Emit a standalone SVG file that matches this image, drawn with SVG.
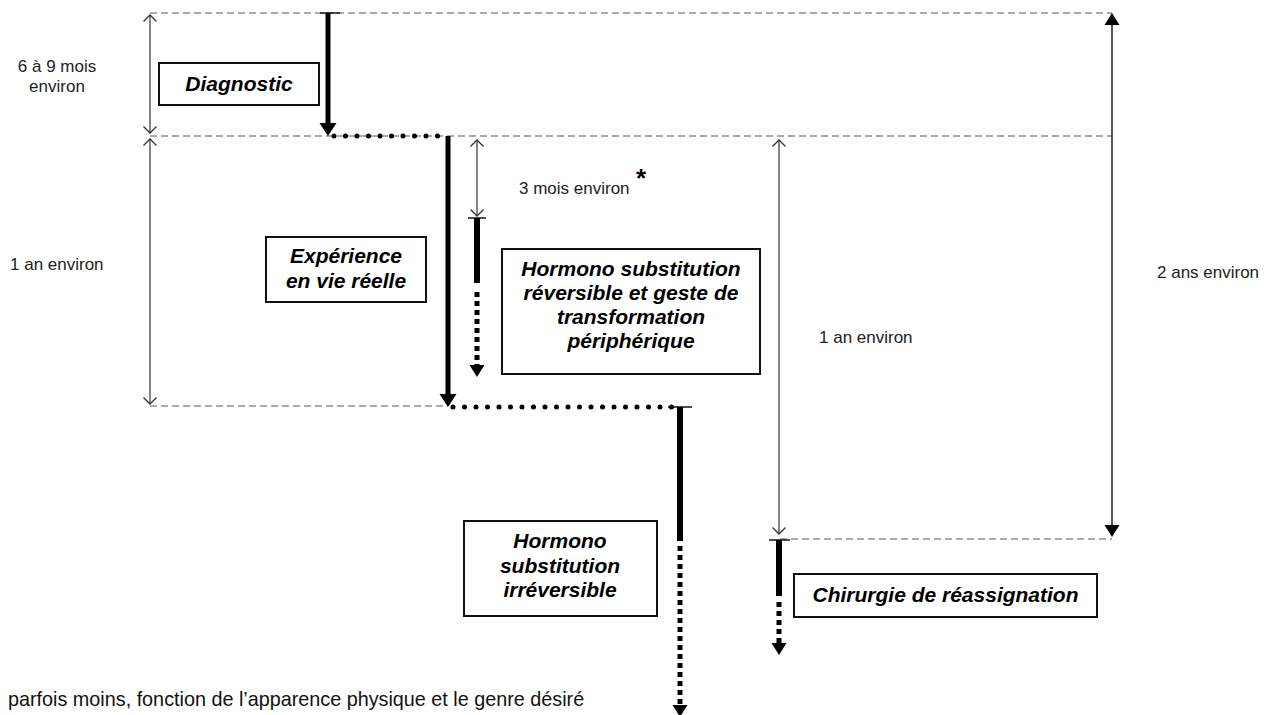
<svg xmlns="http://www.w3.org/2000/svg" width="1272" height="715" viewBox="0 0 1272 715">
<style>
.bg{fill:#fff}
.box{fill:#fff;stroke:#111;stroke-width:2}
.bt{font-family:"Liberation Sans",Arial,sans-serif;font-size:21px;font-weight:bold;font-style:italic;fill:#000;text-anchor:middle}
.lbl{font-family:"Liberation Sans",Arial,sans-serif;font-size:17px;fill:#222}
.star{font-family:"Liberation Sans",Arial,sans-serif;font-size:26px;font-weight:bold;fill:#000}
.note{font-family:"Liberation Sans",Arial,sans-serif;font-size:19.8px;fill:#111}
.dash{stroke:#555;stroke-width:1;stroke-dasharray:7 4;fill:none}
.dim{stroke:#333;stroke-width:1.2;fill:none;marker-start:url(#open);marker-end:url(#open)}
.dim2{stroke:#222;stroke-width:1.5;fill:none;marker-start:url(#filled);marker-end:url(#filled)}
.tick{stroke:#111;stroke-width:1.5}
.thick5{stroke:#000;stroke-width:5;fill:none}
.thick6{stroke:#000;stroke-width:6;fill:none}
.dots{stroke:#000;stroke-width:5;stroke-dasharray:0 11.5;stroke-linecap:round;fill:none}
.sq{stroke:#000;stroke-width:5;stroke-dasharray:5 4;fill:none}
</style>
<defs>
<marker id="open" markerUnits="userSpaceOnUse" viewBox="-10 -10 20 20" refX="0" refY="0" markerWidth="20" markerHeight="20" orient="auto-start-reverse">
<path d="M-6.5,-6.5 L0,0 L-6.5,6.5" fill="none" stroke="#333" stroke-width="1.3"/>
</marker>
<marker id="filled" markerUnits="userSpaceOnUse" viewBox="0 -8 14 16" refX="0" refY="0" markerWidth="14" markerHeight="16" orient="auto-start-reverse">
<path d="M0,-7.5 L12,0 L0,7.5 Z" fill="#000"/>
</marker>
<marker id="headL" markerUnits="userSpaceOnUse" viewBox="0 -9 14 18" refX="0" refY="0" markerWidth="14" markerHeight="18" orient="auto">
<path d="M0,-8.5 L13,0 L0,8.5 Z" fill="#000"/>
</marker>
<marker id="headM" markerUnits="userSpaceOnUse" viewBox="0 -8 13 16" refX="0" refY="0" markerWidth="13" markerHeight="16" orient="auto">
<path d="M0,-7.5 L12,0 L0,7.5 Z" fill="#000"/>
</marker>
</defs>
<rect class="bg" x="0" y="0" width="1272" height="715"/>

<g id="connectors">
<line class="dash" x1="150" y1="13" x2="1112" y2="13"/>
<line class="dash" x1="150" y1="136" x2="1112" y2="136"/>
<line class="dash" x1="150" y1="406" x2="448" y2="406"/>
<line class="dash" x1="780" y1="539" x2="1112" y2="539"/>

<line class="dim" x1="150" y1="15" x2="150" y2="133"/>
<line class="dim" x1="150" y1="139" x2="150" y2="404"/>
<line class="dim" x1="477" y1="140" x2="477" y2="216"/>
<line class="dim" x1="779" y1="140" x2="779" y2="534"/>
<line class="dim2" x1="1112" y1="25" x2="1112" y2="525"/>

<line class="tick" x1="320" y1="13" x2="340" y2="13"/>
<line class="thick5" x1="328" y1="13" x2="328" y2="123" marker-end="url(#headL)"/>
<line class="dots" x1="334" y1="136" x2="448" y2="136"/>
<line class="thick5" x1="448" y1="136" x2="448" y2="394" marker-end="url(#headL)"/>
<line class="dots" x1="453" y1="407" x2="680" y2="407"/>
<line class="tick" x1="668" y1="407" x2="692" y2="407"/>
<line class="thick6" x1="680" y1="407" x2="680" y2="541"/>
<line class="sq" x1="680" y1="546" x2="680" y2="705" marker-end="url(#headM)"/>

<line class="tick" x1="468" y1="218" x2="486" y2="218"/>
<line class="thick6" x1="477" y1="218" x2="477" y2="283"/>
<line class="sq" x1="477" y1="292" x2="477" y2="365" marker-end="url(#headM)"/>

<line class="tick" x1="769" y1="540" x2="790" y2="540"/>
<line class="thick6" x1="779" y1="540" x2="779" y2="596"/>
<line class="sq" x1="779" y1="602" x2="779" y2="643" marker-end="url(#headM)"/>
</g>

<g id="diagnostic">
<rect class="box" x="159" y="63" width="160" height="42"/>
<text class="bt" x="239" y="91">Diagnostic</text>
</g>

<g id="experience">
<rect class="box" x="266" y="237" width="160" height="65"/>
<text class="bt" x="346" y="263">Expérience</text>
<text class="bt" x="346" y="288">en vie réelle</text>
</g>

<g id="hormono-reversible">
<rect class="box" x="502" y="249" width="258" height="125"/>
<text class="bt" x="631" y="276">Hormono substitution</text>
<text class="bt" x="631" y="300">réversible et geste de</text>
<text class="bt" x="631" y="324">transformation</text>
<text class="bt" x="631" y="348">périphérique</text>
</g>

<g id="hormono-irreversible">
<rect class="box" x="464" y="521" width="193" height="95"/>
<text class="bt" x="560" y="548">Hormono</text>
<text class="bt" x="560" y="573">substitution</text>
<text class="bt" x="560" y="597">irréversible</text>
</g>

<g id="chirurgie">
<rect class="box" x="794" y="574" width="303" height="43"/>
<text class="bt" x="945.5" y="602">Chirurgie de réassignation</text>
</g>

<g id="labels">
<text class="lbl" x="519" y="194">3 mois environ</text>
<text class="star" x="636" y="187">*</text>
<text class="lbl" x="57" y="72" text-anchor="middle">6 à 9 mois</text>
<text class="lbl" x="57" y="92" text-anchor="middle">environ</text>
<text class="lbl" x="10" y="270">1 an environ</text>
<text class="lbl" x="819" y="343">1 an environ</text>
<text class="lbl" x="1157" y="278">2 ans environ</text>
<text class="note" x="8" y="706">parfois moins, fonction de l’apparence physique et le genre désiré</text>
</g>
</svg>
